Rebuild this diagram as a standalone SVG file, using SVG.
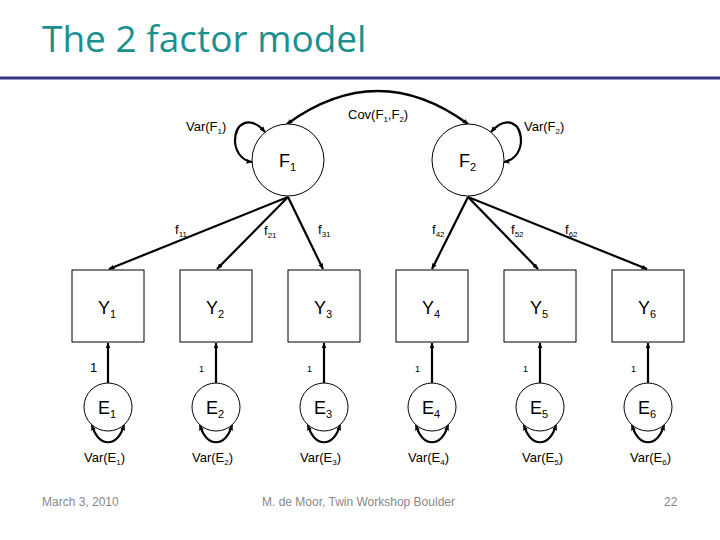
<svg xmlns="http://www.w3.org/2000/svg" width="720" height="540" viewBox="0 0 720 540">
<defs>
<marker id="ah" viewBox="0 0 10 10" refX="9" refY="5" markerWidth="6" markerHeight="6" markerUnits="userSpaceOnUse" orient="auto-start-reverse"><path d="M0,1 L10,5 L0,9 z" fill="#000"/></marker>
<style>
.t{font-family:"Liberation Sans",Arial,sans-serif;fill:#000}
.big{font-size:18px}
.sm{font-size:13px}
.c{fill:#fff;stroke:#000;stroke-width:1}
.b{fill:#fff;stroke:#000;stroke-width:1}
.a{fill:none;stroke:#000;stroke-width:2.2;marker-end:url(#ah)}
.d{fill:none;stroke:#000;stroke-width:2.2;marker-end:url(#ah);marker-start:url(#ah)}
</style>
</defs>
<rect width="720" height="540" fill="#fff"/>
<text x="42" y="52" font-family="Open Sans,'Liberation Sans',sans-serif" font-size="37" fill="#1a9090">The 2 factor model</text>
<line x1="0" y1="78" x2="720" y2="78" stroke="#333380" stroke-width="3"/>
<g id="connectors">
<path class="d" d="M287,124 Q378,58 468,124"/>
<path class="d" d="M265,132 C250,115 235,122 235,142 C236,154 244,161 252,162"/>
<path class="d" d="M491,132 C506,115 521,122 521,142 C520,154 512,161 504,162"/>
<path class="a" d="M288,197 L109,269"/>
<path class="a" d="M288,197 L217,269"/>
<path class="a" d="M288,197 L323,269"/>
<path class="a" d="M468,197 L432,269"/>
<path class="a" d="M468,197 L538,269"/>
<path class="a" d="M468,197 L647,269"/>
<g id="err-arrows">
<path class="a" d="M108,383 L108,343"/><path class="a" d="M216,383 L216,343"/><path class="a" d="M324,383 L324,343"/>
<path class="a" d="M432,383 L432,343"/><path class="a" d="M540,383 L540,343"/><path class="a" d="M648,383 L648,343"/>
<path class="d" d="M92,425 C98,448 118,448 124,425"/>
<path class="d" d="M200,425 C206,448 226,448 232,425"/>
<path class="d" d="M308,425 C314,448 334,448 340,425"/>
<path class="d" d="M416,425 C422,448 442,448 448,425"/>
<path class="d" d="M524,425 C530,448 550,448 556,425"/>
<path class="d" d="M632,425 C638,448 658,448 664,425"/>
</g>
</g>
<text class="t sm" x="348" y="119">Cov(F<tspan font-size="8" dy="3">1</tspan><tspan dy="-3">,F</tspan><tspan font-size="8" dy="3">2</tspan><tspan dy="-3">)</tspan></text>
<text class="t sm" x="186" y="131">Var(F<tspan font-size="8" dy="3">1</tspan><tspan dy="-3">)</tspan></text>
<text class="t sm" x="524" y="131">Var(F<tspan font-size="8" dy="3">2</tspan><tspan dy="-3">)</tspan></text>
<g id="F1"><circle class="c" cx="288" cy="160" r="36"/><text class="t big" x="279" y="167">F<tspan font-size="11" dy="4">1</tspan></text></g>
<g id="F2"><circle class="c" cx="468" cy="160" r="36"/><text class="t big" x="459" y="167">F<tspan font-size="11" dy="4">2</tspan></text></g>
<g class="t sm">
<text x="175" y="234">f<tspan font-size="8" dy="3">11</tspan></text>
<text x="264" y="235">f<tspan font-size="8" dy="3">21</tspan></text>
<text x="318" y="234">f<tspan font-size="8" dy="3">31</tspan></text>
<text x="432" y="234">f<tspan font-size="8" dy="3">42</tspan></text>
<text x="511" y="234">f<tspan font-size="8" dy="3">52</tspan></text>
<text x="565" y="234">f<tspan font-size="8" dy="3">62</tspan></text>
</g>
<g id="Y1"><rect class="b" x="72" y="270" width="72" height="72"/><text class="t big" x="98" y="314">Y<tspan font-size="11" dy="4">1</tspan></text></g>
<g id="Y2"><rect class="b" x="180" y="270" width="72" height="72"/><text class="t big" x="206" y="314">Y<tspan font-size="11" dy="4">2</tspan></text></g>
<g id="Y3"><rect class="b" x="288" y="270" width="72" height="72"/><text class="t big" x="314" y="314">Y<tspan font-size="11" dy="4">3</tspan></text></g>
<g id="Y4"><rect class="b" x="396" y="270" width="72" height="72"/><text class="t big" x="422" y="314">Y<tspan font-size="11" dy="4">4</tspan></text></g>
<g id="Y5"><rect class="b" x="504" y="270" width="72" height="72"/><text class="t big" x="530" y="314">Y<tspan font-size="11" dy="4">5</tspan></text></g>
<g id="Y6"><rect class="b" x="612" y="270" width="72" height="72"/><text class="t big" x="638" y="314">Y<tspan font-size="11" dy="4">6</tspan></text></g>
<g class="t">
<text x="90" y="372" font-size="13">1</text>
<text x="199" y="372" font-size="9">1</text><text x="307" y="372" font-size="9">1</text>
<text x="415" y="372" font-size="9">1</text><text x="523" y="372" font-size="9">1</text><text x="631" y="372" font-size="9">1</text>
</g>
<g id="E1"><circle class="c" cx="108" cy="407" r="24"/><text class="t big" x="98" y="414">E<tspan font-size="11" dy="4">1</tspan></text></g>
<g id="E2"><circle class="c" cx="216" cy="407" r="24"/><text class="t big" x="206" y="414">E<tspan font-size="11" dy="4">2</tspan></text></g>
<g id="E3"><circle class="c" cx="324" cy="407" r="24"/><text class="t big" x="314" y="414">E<tspan font-size="11" dy="4">3</tspan></text></g>
<g id="E4"><circle class="c" cx="432" cy="407" r="24"/><text class="t big" x="422" y="414">E<tspan font-size="11" dy="4">4</tspan></text></g>
<g id="E5"><circle class="c" cx="540" cy="407" r="24"/><text class="t big" x="530" y="414">E<tspan font-size="11" dy="4">5</tspan></text></g>
<g id="E6"><circle class="c" cx="648" cy="407" r="24"/><text class="t big" x="638" y="414">E<tspan font-size="11" dy="4">6</tspan></text></g>
<g class="t sm">
<text x="84" y="462">Var(E<tspan font-size="8" dy="3">1</tspan><tspan dy="-3">)</tspan></text>
<text x="192" y="462">Var(E<tspan font-size="8" dy="3">2</tspan><tspan dy="-3">)</tspan></text>
<text x="300" y="462">Var(E<tspan font-size="8" dy="3">3</tspan><tspan dy="-3">)</tspan></text>
<text x="408" y="462">Var(E<tspan font-size="8" dy="3">4</tspan><tspan dy="-3">)</tspan></text>
<text x="522" y="462">Var(E<tspan font-size="8" dy="3">5</tspan><tspan dy="-3">)</tspan></text>
<text x="630" y="462">Var(E<tspan font-size="8" dy="3">6</tspan><tspan dy="-3">)</tspan></text>
</g>
<g font-family="'Liberation Sans',Arial,sans-serif" font-size="12" fill="#888">
<text x="42" y="506">March 3, 2010</text>
<text x="262" y="506">M. de Moor, Twin Workshop Boulder</text>
<text x="664" y="506">22</text>
</g>
</svg>
